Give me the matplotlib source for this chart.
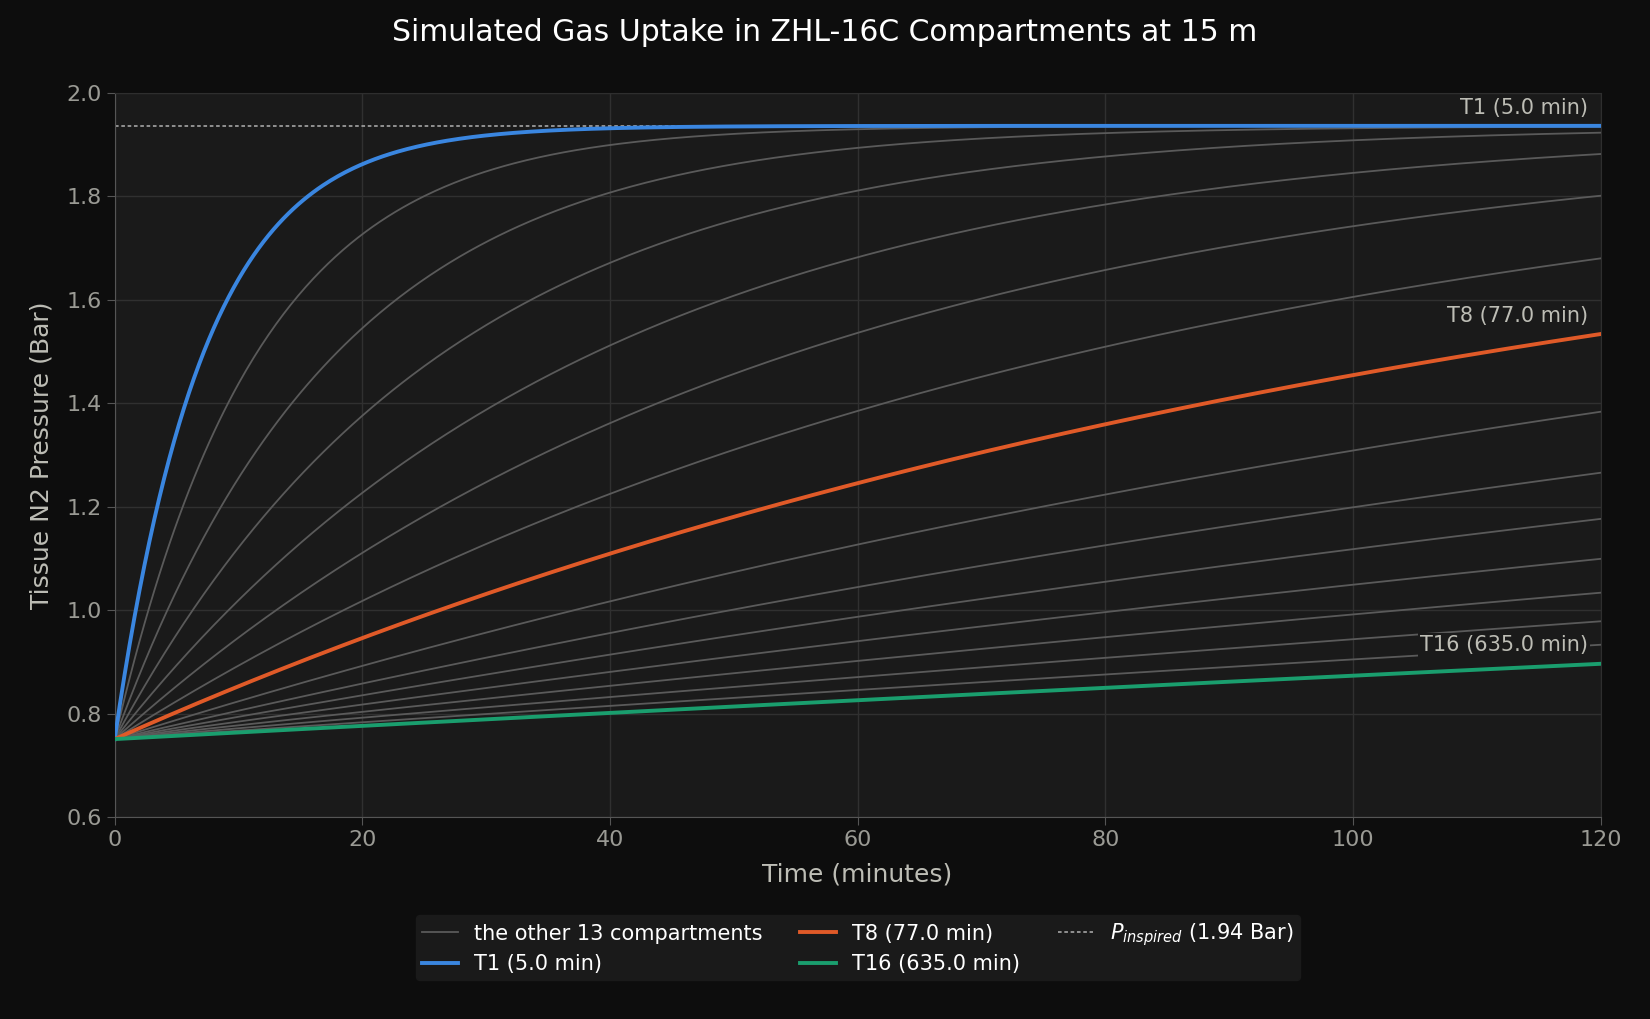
import numpy as np
import matplotlib
matplotlib.use("Agg")
import matplotlib.pyplot as plt

# ZHL-16C nitrogen half-times (minutes)
half_times = [5.0, 8.0, 12.5, 18.5, 27.0, 38.3, 54.3, 77.0,
              109.0, 146.0, 187.0, 239.0, 305.0, 390.0, 498.0, 635.0]
p_start = 0.751      # tissue N2 at surface (Bar)
p_inspired = 1.936   # inspired N2 at 15 m (Bar)
time_min = np.linspace(0, 120, 600)

highlight = {0: "#3a86e0", 7: "#e05a28", 15: "#1a9e6e"}

BG = "#0d0d0d"
AX_BG = "#1a1a1a"
TXT = "#bdbdb5"

fig = plt.figure(figsize=(16.5, 10.19), dpi=100, facecolor=BG)
ax = fig.add_axes([0.0695, 0.198, 0.9005, 0.711], facecolor=AX_BG)

ax.axhline(p_inspired, color="#9a9a9a", lw=1.3, ls=(0, (2, 1.5)), zorder=2,
           label=r"$P_{inspired}$ (%.2f Bar)" % p_inspired)

first_gray = True
for i, ht in enumerate(half_times):
    p = p_start + (p_inspired - p_start) * (1 - 2 ** (-time_min / ht))
    if i in highlight:
        continue
    ax.plot(time_min, p, color="#5a5a5a", lw=1.3, zorder=3,
            label="the other 13 compartments" if first_gray else None)
    first_gray = False

for i in highlight:
    ht = half_times[i]
    p = p_start + (p_inspired - p_start) * (1 - 2 ** (-time_min / ht))
    ax.plot(time_min, p, color=highlight[i], lw=2.8, zorder=5,
            label="T%d (%.1f min)" % (i + 1, ht))
    ax.annotate("T%d (%.1f min)" % (i + 1, ht), xy=(time_min[-1], p[-1]),
                xytext=(-9, 6), textcoords="offset points",
                ha="right", va="bottom", color=TXT, fontsize=15, zorder=6,
                bbox=dict(boxstyle="square,pad=0.1", fc=AX_BG, ec="none"))

ax.set_xlim(0, 120)
ax.set_ylim(0.6, 2.0)
ax.set_xticks(range(0, 121, 20))
ax.set_yticks(np.arange(0.6, 2.01, 0.2))
ax.grid(color="#303030", lw=1.0)
ax.set_axisbelow(True)
for s in ["left", "bottom"]:
    ax.spines[s].set_color("#555555")
for s in ["top", "right"]:
    ax.spines[s].set_color("#2e2e2e")
ax.tick_params(colors="#555555", labelcolor="#9a9a94", labelsize=16, length=6)

ax.set_xlabel("Time (minutes)", color=TXT, fontsize=18, labelpad=9)
ax.set_ylabel("Tissue N2 Pressure (Bar)", color=TXT, fontsize=18, labelpad=9)
fig.text(0.5, 0.968, "Simulated Gas Uptake in ZHL-16C Compartments at 15 m",
         color="white", fontsize=21.5, ha="center", va="center")

handles, labels = ax.get_legend_handles_labels()
order = [1, 2, 3, 4, 0]
leg = fig.legend([handles[k] for k in order], [labels[k] for k in order],
                 loc="center", bbox_to_anchor=(0.52, 0.07), ncol=3,
                 fontsize=15, frameon=True, facecolor=AX_BG, edgecolor=AX_BG,
                 framealpha=1.0, labelcolor="white", columnspacing=1.8,
                 handlelength=1.7, labelspacing=0.5, borderpad=0.3)

fig.savefig("out.png", facecolor=BG)
